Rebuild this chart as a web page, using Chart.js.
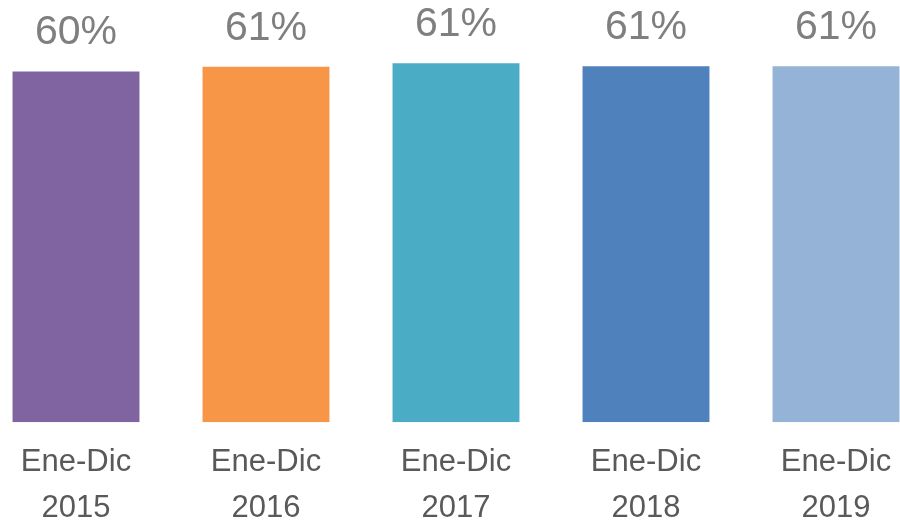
<!DOCTYPE html>
<html lang="es">
<head>
  <meta charset="UTF-8">
  <title>Ene-Dic 2015-2019</title>
  <script src="https://cdn.jsdelivr.net/npm/chart.js"></script>
  <style>
    html, body { margin: 0; padding: 0; background: #fff; overflow: hidden; }
    body { width: 900px; height: 523px; position: relative; }
    #wrap { position: absolute; left: -19.5px; top: 0; width: 950px; height: 548px; }
  </style>
</head>
<body>
  <div id="wrap"><canvas id="chart"></canvas></div>

  <script>
    // datos
    const periods = ['Ene-Dic', 'Ene-Dic', 'Ene-Dic', 'Ene-Dic', 'Ene-Dic'];
    const years = ['2015', '2016', '2017', '2018', '2019'];
    const values = [60.0, 60.8, 61.4, 60.9, 60.9];
    const barColors = ['#8064A2', '#F79646', '#4BACC6', '#4F81BD', '#95B3D7'];

    const labels = periods.map((p, i) => [p, years[i]]);

    // etiquetas de porcentaje encima de cada barra
    const valueLabels = {
      id: 'valueLabels',
      afterDatasetsDraw(chart) {
        const ctx = chart.ctx;
        const meta = chart.getDatasetMeta(0);
        ctx.save();
        ctx.font = '41px "Liberation Sans", Arial, sans-serif';
        ctx.fillStyle = '#7F7F7F';
        ctx.textAlign = 'center';
        ctx.textBaseline = 'alphabetic';
        meta.data.forEach((bar, i) => {
          ctx.fillText(Math.round(values[i]) + '%', bar.x, bar.y - 27);
        });
        ctx.restore();
      }
    };

    new Chart(document.getElementById('chart'), {
      type: 'bar',
      data: {
        labels: labels,
        datasets: [{
          data: values,
          backgroundColor: barColors,
          borderWidth: 0,
          barPercentage: 0.668,
          categoryPercentage: 1
        }]
      },
      options: {
        responsive: true,
        maintainAspectRatio: false,
        animation: false,
        layout: { padding: { top: 13, left: 0, right: 0, bottom: 0 } },
        plugins: {
          legend: { display: false },
          tooltip: { enabled: false }
        },
        scales: {
          x: {
            grid: { display: false, drawTicks: false },
            border: { display: false },
            ticks: {
              color: '#595959',
              font: { family: '"Liberation Sans", Arial, sans-serif', size: 31, lineHeight: 1.48 },
              padding: 17,
              maxRotation: 0,
              autoSkip: false
            }
          },
          y: {
            display: false,
            min: 0,
            max: 70
          }
        }
      },
      plugins: [valueLabels]
    });
  </script>
</body>
</html>
